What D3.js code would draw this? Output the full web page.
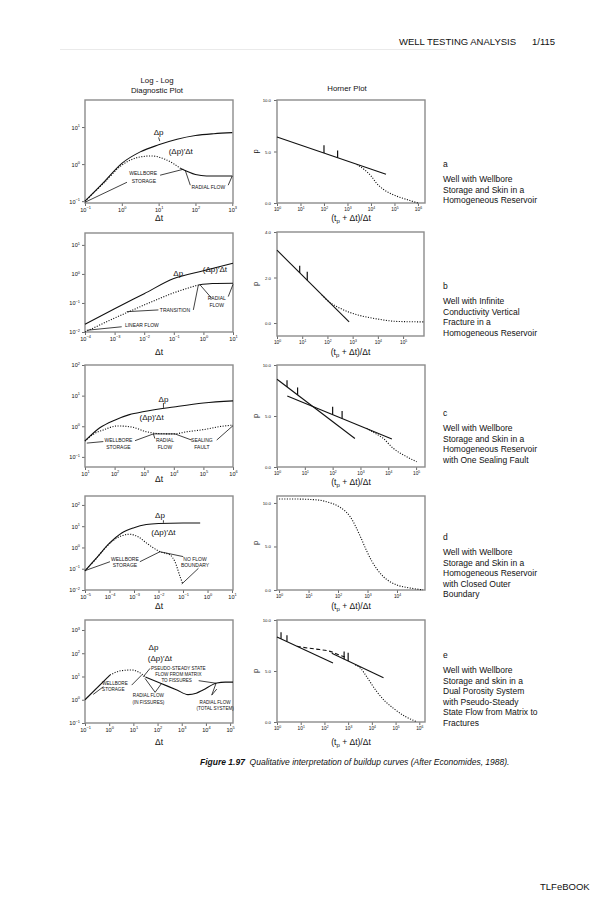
<!DOCTYPE html>
<html><head><meta charset="utf-8">
<script src="https://cdn.jsdelivr.net/npm/d3@7"></script>
<style>body{margin:0;background:#fff} text{font-family:"Liberation Sans",Arial,Helvetica,sans-serif;fill:#111}</style>
</head><body><svg id="c" width="604" height="900"></svg>
<script>
// ===== DATA (log-log panels: [log10 Δt, log10 value]; Horner: [log10 (tp+Δt)/Δt, p]) =====
// Row a
const aDp = [[-1,-1],[-0.5,-0.5],[0,0.02],[0.5,0.33],[1,0.52],[1.5,0.67],[2,0.77],[2.5,0.82],[3,0.85]];
const aDerDotted = [[-1,-1],[-0.5,-0.52],[0,-0.03],[0.4,0.17],[0.8,0.22],[1.2,0.12],[1.6,-0.12]];
const aDerSolid = [[1.6,-0.12],[2,-0.28],[2.3,-0.32],[3,-0.32]];
const aHornerLine = [[0,6.4],[4.64,2.8]];
const aHornerDotted = [[3.4,3.75],[3.53,3.55],[3.74,3.2],[4.03,2.56],[4.24,1.91],[4.52,1.33],[4.81,0.94],[5.16,0.61],[5.59,0.29],[6.0,0]];
const aHornerTicks = [[2.0,4.85,5.6],[2.58,4.4,5.1]];
// Row b
const bDp = [[-4,-1.73],[-3,-1.2],[-2,-0.68],[-1,-0.16],[0,0.11],[1,0.37]];
const bDerDotted = [[-4,-2.0],[-3,-1.52],[-2,-1.07],[-1,-0.65],[-0.17,-0.38]];
const bDerSolid = [[-0.17,-0.38],[0.3,-0.33],[1,-0.32]];
const bHornerLine = [[0,3.2],[2.86,0.05]];
const bHornerDotted = [[1.78,1.23],[2.1,0.9],[2.5,0.65],[2.9,0.46],[3.4,0.3],[3.97,0.18],[4.76,0.07],[5.83,0.05]];
const bHornerTicks = [[0.9,2.2,2.52],[1.2,1.88,2.25]];
// Row c
const cDp = [[1,-0.48],[1.5,-0.05],[2,0.2],[2.5,0.38],[3,0.48],[4,0.63],[5,0.76],[6,0.83]];
const cDerDotted = [[1,-0.48],[1.3,-0.25],[1.62,-0.12],[2.1,0.01],[2.6,-0.03],[3.08,-0.18],[3.5,-0.24],[4.0,-0.25],[4.44,-0.18],[5,-0.11],[5.56,-0.01],[6,0.04]];
const cHornerLine1 = [[0,8.6],[2.8,2.8]];
const cHornerLine2 = [[0.37,6.96],[4.13,2.75]];
const cHornerDotted = [[3.22,3.79],[3.5,3.35],[3.82,2.8],[4.18,1.83],[4.66,1.01],[5.02,0.52]];
const cHornerTicks = [[0.36,7.85,8.5],[0.74,7.07,7.8],[2.0,5.13,5.9],[2.34,4.75,5.5]];
// Row d
const dDp = [[-5,-1.1],[-4.5,-0.45],[-4,0.2],[-3.5,0.68],[-3,0.93],[-2.5,1.08],[-2,1.13],[-1,1.15],[-0.3,1.15]];
const dDerDotted = [[-5,-1.1],[-4.6,-0.6],[-4.25,-0.12],[-3.9,0.28],[-3.5,0.55],[-3.16,0.62],[-2.8,0.48],[-2.48,0.2],[-1.94,-0.2],[-1.53,-0.35],[-1.33,-0.67],[-1.12,-1.37],[-1.01,-1.72]];
const dHornerDotted = [[0,10.46],[0.6,10.45],[1.29,10.35],[1.7,10.05],[2.07,9.5],[2.41,8.43],[2.75,6.2],[2.97,4.5],[3.15,3.3],[3.32,2.4],[3.54,1.53],[4.0,0.57],[4.33,0.3],[4.88,0.02]];
// Row e
const eDerSolidA = [[-1,0],[0.03,1.06]];
const eDerDotted = [[0.03,1.06],[0.5,1.25],[0.94,1.28],[1.2,1.2],[1.5,0.98]];
const eDerSolidB = [[1.5,0.98],[2.1,0.72],[2.8,0.42],[3.26,0.22],[3.6,0.28],[3.88,0.42],[4.45,0.72],[4.8,0.76],[5.12,0.76]];
const eHornerLine1 = [[0,8.33],[2.36,5.78]];
const eHornerLine2 = [[2.31,6.73],[4.49,4.35]];
const eHornerDashed = [[0.84,7.42],[1.3,7.25],[1.8,7.1],[2.2,6.95],[2.6,6.6],[2.94,6.3]];
const eHornerDotted = [[3.3,5.6],[3.55,5.2],[3.78,4.44],[4.2,3.0],[4.55,2.05],[4.91,1.34],[5.4,0.55],[5.89,0.03]];
const eHornerTicks = [[0.17,8.15,8.8],[0.42,7.88,8.5],[2.83,6.16,6.9],[3.0,5.98,6.8]];

// Axis tick exponents / labels
const xTicksA = [-1,0,1,2,3], yTicksA = [-1,0,1];
const xTicksB = [-4,-3,-2,-1,0,1], yTicksB = [-2,-1,0,1];
const xTicksC = [1,2,3,4,5,6], yTicksC = [-1,0,1,2];
const xTicksD = [-5,-4,-3,-2,-1,0,1], yTicksD = [-2,-1,0,1,2];
const xTicksE = [-1,0,1,2,3,4,5], yTicksE = [-1,0,1,2,3];
const hornerXTicksA = [0,1,2,3,4,5,6], hornerXTicksB = [0,1,2,3,4,5], hornerXTicksC = [0,1,2,3,4,5], hornerXTicksD = [0,1,2,3,4], hornerXTicksE = [0,1,2,3,4,5,6];
const hornerYTicks = [0,5,10], hornerYTicksB = [0,2,4];

// Descriptions
const descA = ["Well with Wellbore","Storage and Skin in a","Homogeneous Reservoir"];
const descB = ["Well with Infinite","Conductivity Vertical","Fracture in a","Homogeneous Reservoir"];
const descC = ["Well with Wellbore","Storage and Skin in a","Homogeneous Reservoir","with One Sealing Fault"];
const descD = ["Well with Wellbore","Storage and Skin in a","Homogeneous Reservoir","with Closed Outer","Boundary"];
const descE = ["Well with Wellbore","Storage and skin in a","Dual Porosity System","with Pseudo-Steady","State Flow from Matrix to","Fractures"];

// ===== DRAWING =====
const svg = d3.select("#c");
svg.append("rect").attr("width",604).attr("height",900).attr("fill","#fff");
const INK = "#111", FRAME = "#8c8c8c";

function supText(g, exp, fs){
  g.text(null);
  g.append("tspan").text("10");
  g.append("tspan").attr("dy", -fs*0.5).attr("font-size", fs*0.7).text(String(exp).replace("-","\u2212"));
}

function panel(cfg){
  const g = svg.append("g");
  const {l,r,t,b} = cfg.box;
  const x = d3.scaleLog().domain([10**cfg.xd[0],10**cfg.xd[1]]).range([l,r]);
  const y = cfg.log ? d3.scaleLog().domain([10**cfg.yd[0],10**cfg.yd[1]]).range([b,t])
                    : d3.scaleLinear().domain(cfg.yd).range([b,t]);
  const X = d => x(10**d[0]);
  const Y = d => cfg.log ? y(10**d[1]) : y(d[1]);
  // axes
  const ax = g.append("g").attr("transform",`translate(0,${b})`)
    .call(d3.axisBottom(x).tickValues(cfg.xt.map(v=>10**v)).tickSize(3).tickFormat(""));
  ax.select(".domain").remove();
  ax.selectAll(".tick line").attr("stroke","#444").attr("stroke-width",0.8);
  ax.selectAll(".tick").append("text").attr("y",cfg.log?8.5:8).attr("text-anchor","middle")
    .attr("font-size",cfg.log?5.6:4.8).each(function(d){ supText(d3.select(this), Math.round(Math.log10(d)), cfg.log?5.6:4.8); });
  const ay = g.append("g").attr("transform",`translate(${l},0)`)
    .call(d3.axisLeft(y).tickValues(cfg.log ? cfg.yt.map(v=>10**v) : cfg.yt).tickSize(3).tickFormat(""));
  ay.select(".domain").remove();
  ay.selectAll(".tick line").attr("stroke","#444").attr("stroke-width",0.8);
  if (cfg.log){
    ay.selectAll(".tick").append("text").attr("x",-5).attr("dy","0.35em").attr("text-anchor","end")
      .attr("font-size",5.6).each(function(d){ supText(d3.select(this), Math.round(Math.log10(d)), 5.6); });
  } else {
    ay.selectAll(".tick").append("text").attr("x",-6).attr("dy","0.35em").attr("text-anchor","end")
      .attr("font-size",4.3).text(d=>d3.format(".1f")(d));
  }
  g.append("rect").attr("x",l).attr("y",t).attr("width",r-l).attr("height",b-t)
    .attr("fill","none").attr("stroke",FRAME).attr("stroke-width",1.4);
  const line = d3.line().x(X).y(Y).curve(d3.curveMonotoneX);
  const straight = d3.line().x(X).y(Y);
  (cfg.solid||[]).forEach(s => g.append("path").attr("d",line(s)).attr("fill","none").attr("stroke",INK).attr("stroke-width",1.1));
  (cfg.dotted||[]).forEach(s => g.append("path").attr("d",line(s)).attr("fill","none").attr("stroke",INK).attr("stroke-width",1.1).attr("stroke-dasharray","1.1,1.5"));
  (cfg.dashed||[]).forEach(s => g.append("path").attr("d",line(s)).attr("fill","none").attr("stroke",INK).attr("stroke-width",1.1).attr("stroke-dasharray","4,2.5"));
  (cfg.ticks||[]).forEach(tk => g.append("path").attr("d",straight([[tk[0],tk[1]],[tk[0],tk[2]]])).attr("stroke",INK).attr("stroke-width",1.2));
  (cfg.leaders||[]).forEach(s => g.append("path").attr("d",straight(s)).attr("fill","none").attr("stroke",INK).attr("stroke-width",0.8));
  (cfg.labels||[]).forEach(lb => {
    g.append("text").attr("x",X(lb.at)).attr("y",Y(lb.at)).attr("text-anchor","middle").attr("dy","0.35em")
      .attr("font-size",lb.fs||5).text(lb.t);
  });
  // axis labels
  if (cfg.xlab === "dt"){
    g.append("text").attr("x",(l+r)/2).attr("y",cfg.xlabY).attr("text-anchor","middle").attr("font-size",8.5).text("\u0394t");
  } else {
    const tx = g.append("text").attr("x",(l+r)/2).attr("y",cfg.xlabY).attr("text-anchor","middle").attr("font-size",8.5);
    tx.append("tspan").text("(t");
    tx.append("tspan").attr("dy",2).attr("font-size",6).text("p");
    tx.append("tspan").attr("dy",-2).text(" + \u0394t)/\u0394t");
    g.append("text").attr("transform",`translate(${l-19},${(t+b)/2}) rotate(-90)`).attr("text-anchor","middle")
      .attr("font-size",7.5).text("p");
  }
  return {x,y};
}

const DP = "\u0394p", DER = "(\u0394p)\u2032\u0394t";

// Row a
panel({box:{l:85,r:233,t:100,b:203}, log:true, xd:[-1,3.02], yd:[-1.05,1.73], xt:xTicksA, yt:yTicksA,
  solid:[aDp,aDerSolid], dotted:[aDerDotted], xlab:"dt", xlabY:221,
  leaders:[[[-1,-1.03],[0.14,-0.49]],[[1.04,-0.3],[1.67,-0.14]],[[1.72,-0.16],[1.86,-0.57]],[[2.89,-0.57],[3.0,-0.32]],[[1.0,0.72],[1.03,0.62]]],
  labels:[{t:DP,at:[1.0,0.86],fs:8},{t:DER,at:[1.6,0.36],fs:8},{t:"WELLBORE",at:[0.58,-0.24]},{t:"STORAGE",at:[0.6,-0.46]},{t:"RADIAL FLOW",at:[2.35,-0.62]}]});
panel({box:{l:277,r:425,t:100,b:203}, log:false, xd:[0,6.3], yd:[0,10], xt:hornerXTicksA, yt:hornerYTicks,
  solid:[aHornerLine], dotted:[aHornerDotted], ticks:aHornerTicks, xlab:"h", xlabY:221});
// Row b
panel({box:{l:85,r:233,t:233,b:332}, log:true, xd:[-4,1], yd:[-2,1.41], xt:xTicksB, yt:yTicksB,
  solid:[bDp,bDerSolid], dotted:[bDerDotted], xlab:"dt", xlabY:355,
  leaders:[[[-2.59,-1.3],[-1.52,-1.24]],[[-0.34,-1.24],[-0.17,-0.38]],[[-3.94,-1.94],[-2.76,-1.82]],[[-0.11,-0.38],[0.28,-0.84]],[[0.84,-0.78],[1.0,-0.36]]],
  labels:[{t:DP,at:[-0.85,0.04],fs:8},{t:DER,at:[0.39,0.16],fs:8},{t:"TRANSITION",at:[-0.96,-1.24]},{t:"LINEAR FLOW",at:[-2.08,-1.76]},{t:"RADIAL",at:[0.45,-0.84]},{t:"FLOW",at:[0.45,-1.07]}]});
panel({box:{l:277,r:424,t:232,b:336}, log:false, xd:[0,5.83], yd:[-0.57,4], xt:hornerXTicksB, yt:hornerYTicksB,
  solid:[bHornerLine], dotted:[bHornerDotted], ticks:bHornerTicks, xlab:"h", xlabY:355});
// Row c
panel({box:{l:85,r:233,t:365,b:467}, log:true, xd:[1,6], yd:[-1.33,2], xt:xTicksC, yt:yTicksC,
  solid:[cDp], dotted:[cDerDotted], xlab:"dt", xlabY:482,
  leaders:[[[1.06,-0.55],[1.62,-0.5]],[[2.69,-0.47],[3.31,-0.25]],[[3.31,-0.25],[4.04,-0.25]],[[3.31,-0.25],[3.36,-0.4]],[[4.04,-0.25],[4.6,-0.45]],[[5.45,-0.45],[6.0,0.02]],[[3.65,0.76],[3.65,0.6]]],
  labels:[{t:DP,at:[3.65,0.88],fs:8},{t:DER,at:[3.25,0.29],fs:8},{t:"WELLBORE",at:[2.13,-0.45]},{t:"STORAGE",at:[2.13,-0.68]},{t:"RADIAL",at:[3.7,-0.45]},{t:"FLOW",at:[3.7,-0.68]},{t:"SEALING",at:[4.95,-0.45]},{t:"FAULT",at:[4.95,-0.68]}]});
panel({box:{l:277,r:425,t:365,b:467}, log:false, xd:[0,5.32], yd:[0,10], xt:hornerXTicksC, yt:hornerYTicks,
  solid:[cHornerLine1,cHornerLine2], dotted:[cHornerDotted], ticks:cHornerTicks, xlab:"h", xlabY:485});
// Row d
panel({box:{l:85,r:233,t:496,b:590}, log:true, xd:[-5,1.04], yd:[-2,2.42], xt:xTicksD, yt:yTicksD,
  solid:[dDp], dotted:[dDerDotted], xlab:"dt", xlabY:609,
  leaders:[[[-5,-1.09],[-3.98,-0.67]],[[-2.76,-0.67],[-1.94,-0.2]],[[-1.94,-0.2],[-0.99,-0.43]],[[-1.05,-1.72],[-0.37,-0.98]],[[-1.8,1.28],[-1.8,1.16]]],
  labels:[{t:DP,at:[-1.94,1.5],fs:8},{t:DER,at:[-1.8,0.7],fs:8},{t:"WELLBORE",at:[-3.37,-0.56]},{t:"STORAGE",at:[-3.37,-0.82]},{t:"NO FLOW",at:[-0.51,-0.54]},{t:"BOUNDARY",at:[-0.51,-0.82]}]});
panel({box:{l:277,r:425,t:496,b:590}, log:false, xd:[-0.07,4.95], yd:[0,10.8], xt:hornerXTicksD, yt:hornerYTicks,
  dotted:[dHornerDotted], xlab:"h", xlabY:609});
// Row e
panel({box:{l:85,r:233,t:620,b:723}, log:true, xd:[-1,5.12], yd:[-1,3.43], xt:xTicksE, yt:yTicksE,
  solid:[eDerSolidA,eDerSolidB], dotted:[eDerDotted], xlab:"dt", xlabY:745,
  leaders:[[[-0.66,0.23],[-0.24,0.56]],[[0.93,0.63],[1.34,1.06]],[[1.69,1.35],[1.41,0.99]],[[1.48,0.92],[1.9,0.32]],[[1.9,0.32],[2.17,0.71]],[[3.7,0.82],[4.42,0.71]],[[4.42,0.71],[4.24,0.2]],[[4.24,0.2],[4.45,0.46]]],
  labels:[{t:DP,at:[1.83,2.28],fs:8},{t:DER,at:[2.1,1.78],fs:8},{t:"PSEUDO-STEADY STATE",at:[2.86,1.35],fs:4.6},{t:"FLOW FROM MATRIX",at:[2.86,1.09],fs:4.6},{t:"TO FISSURES",at:[2.79,0.82],fs:4.6},
    {t:"WELLBORE",at:[0.24,0.71],fs:4.6},{t:"STORAGE",at:[0.17,0.43],fs:4.6},{t:"RADIAL FLOW",at:[1.62,0.17],fs:4.6},{t:"(IN FISSURES)",at:[1.62,-0.11],fs:4.6},{t:"RADIAL FLOW",at:[4.38,-0.11],fs:4.6},{t:"(TOTAL SYSTEM)",at:[4.38,-0.37],fs:4.6}]});
panel({box:{l:277,r:425,t:620,b:722}, log:false, xd:[0,6.24], yd:[0,10], xt:hornerXTicksE, yt:hornerYTicks,
  solid:[eHornerLine1,eHornerLine2], dashed:[eHornerDashed], dotted:[eHornerDotted], ticks:eHornerTicks, xlab:"h", xlabY:745});

// Titles
svg.append("text").attr("x",157).attr("y",83).attr("text-anchor","middle").attr("font-size",7.8).text("Log - Log");
svg.append("text").attr("x",157).attr("y",92.5).attr("text-anchor","middle").attr("font-size",7.8).text("Diagnostic Plot");
svg.append("text").attr("x",347).attr("y",91).attr("text-anchor","middle").attr("font-size",7.8).text("Horner Plot");

// Descriptions
[["a",descA,167],["b",descB,289],["c",descC,416],["d",descD,540],["e",descE,658]].forEach(([k,lines,yy])=>{
  svg.append("text").attr("x",443).attr("y",yy).attr("font-size",8.5).text(k);
  lines.forEach((s,i)=> svg.append("text").attr("x",443).attr("y",yy+15+i*10.6).attr("font-size",8.5).text(s));
});

// Header, caption, footer
svg.append("text").attr("x",399).attr("y",45).attr("font-size",9.5).text("WELL TESTING ANALYSIS");
svg.append("text").attr("x",532).attr("y",45).attr("font-size",9.5).text("1/115");
svg.append("line").attr("x1",60).attr("x2",447).attr("y1",49.5).attr("y2",49.5).attr("stroke","#d4d4d4").attr("stroke-width",0.5);
const cap = svg.append("text").attr("x",200).attr("y",765).attr("font-size",8.5);
cap.append("tspan").attr("font-weight","bold").attr("font-style","italic").text("Figure 1.97");
cap.append("tspan").attr("font-style","italic").text("\u00a0\u00a0Qualitative interpretation of buildup curves (After Economides, 1988).");
svg.append("text").attr("x",540).attr("y",890).attr("font-size",9.5).text("TLFeBOOK");
</script></body></html>
